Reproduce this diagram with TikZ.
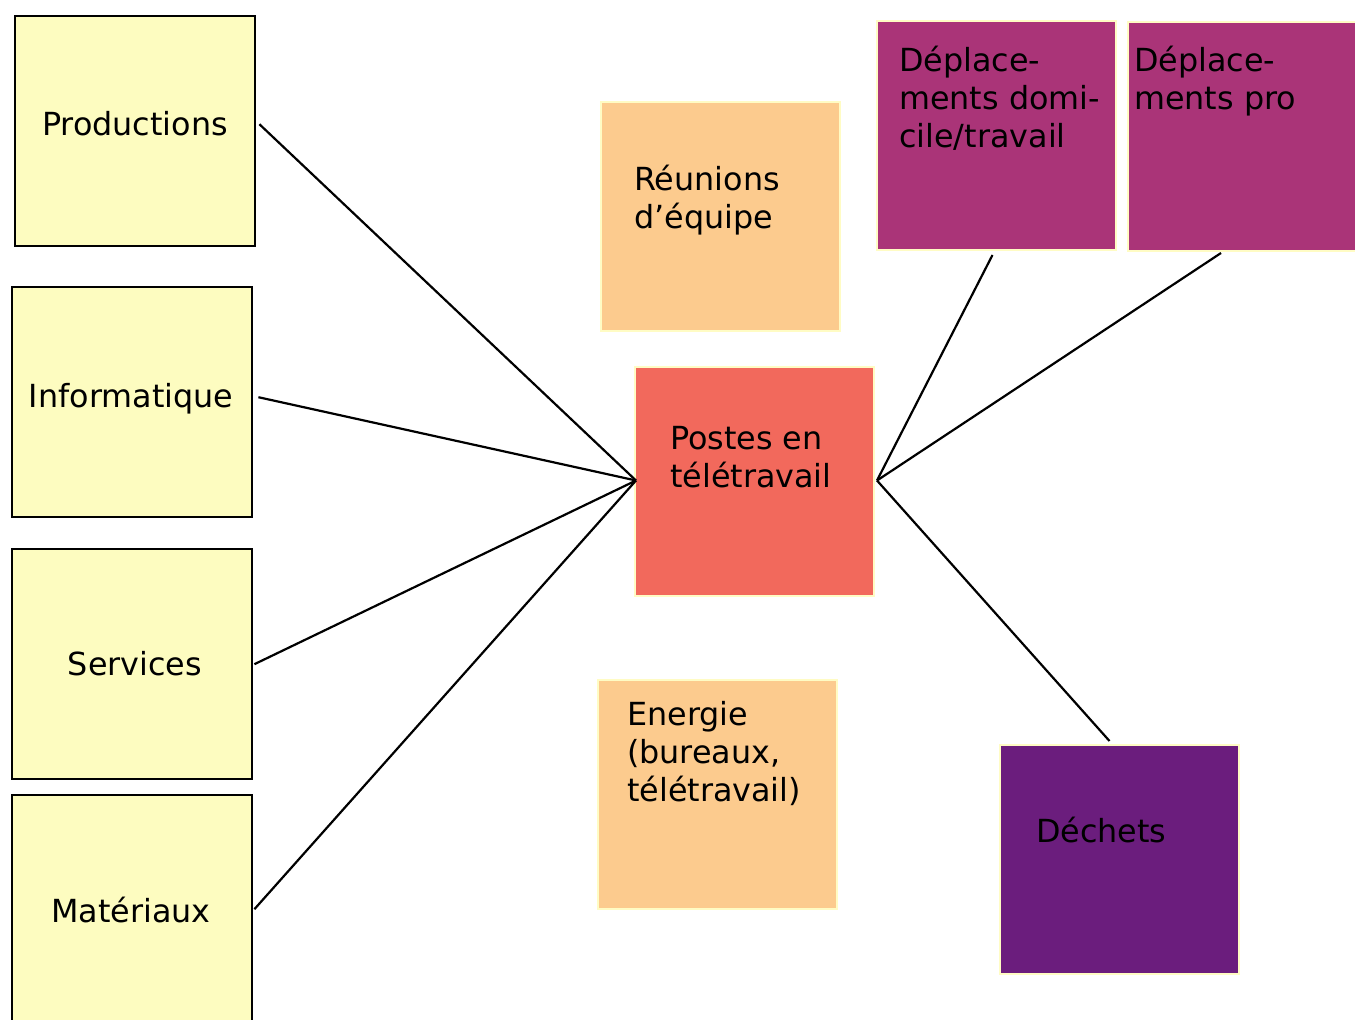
\documentclass[tikz,border=0pt]{standalone}
\usepackage{fontspec}
\setmainfont{DejaVu Sans}
\usetikzlibrary{calc}
\definecolor{lemon}{HTML}{FDFCC0}
\definecolor{peach}{HTML}{FCCB8E}
\definecolor{coral}{HTML}{F2695C}
\definecolor{plum}{HTML}{AA3478}
\definecolor{grape}{HTML}{6B1D7D}
\definecolor{paleedge}{HTML}{FFFCC4}
\tikzset{
  srcbox/.style={draw=black, line width=2.4pt, fill=lemon, rectangle, inner sep=0pt,
    minimum width=240pt, minimum height=230pt, anchor=north west},
  catbox/.style={draw=paleedge, line width=2pt, rectangle, inner sep=0pt,
    minimum width=239pt, minimum height=229pt, anchor=north west},
  lbl/.style={font=\fontsize{31.8pt}{38pt}\selectfont, inner sep=0pt, align=left, anchor=base west},
  clbl/.style={font=\fontsize{31.8pt}{38pt}\selectfont, inner sep=0pt, anchor=base},
  link/.style={draw=black, line width=2.2pt}
}
\begin{document}
\begin{tikzpicture}[x=1pt,y=-1pt]
\useasboundingbox (0,0) rectangle (1355,1020);
% left sources
\node[srcbox] (prod) at (14,15) {};
\node[srcbox] (info) at (11,286) {};
\node[srcbox] (serv) at (11,548) {};
\node[srcbox] (mat) at (11,794) {};
\node[clbl] (prodt) at (135,135) {Productions};
\node[clbl] (infot) at (131,407.5) {Informatique};
\node[clbl] (servt) at (135,675.5) {Services};
\node[clbl] (matt) at (131,922.5) {Matériaux};
% centre and categories
\node[catbox, fill=peach] (reun) at (600,101) {};
\node[catbox, fill=coral] (post) at (634,366) {};
\node[catbox, fill=peach] (ener) at (597,679) {};
\node[catbox, fill=plum] (ddom) at (876,20) {};
\node[catbox, fill=plum] (dpro) at (1127,21) {};
\node[catbox, fill=grape] (dech) at (999,744) {};
% anchor base = baseline of the last line
\node[lbl] (reunt) at (634,228.5) {Réunions\\d’équipe};
\node[lbl] (postt) at (670,487.5) {Postes en\\télétravail};
\node[lbl] (enert) at (627,801.5) {Energie\\(bureaux,\\télétravail)};
\node[lbl] (ddomt) at (899,147.5) {Déplace-\\ments domi-\\cile/travail};
\node[lbl] (dprot) at (1134,109.5) {Déplace-\\ments pro};
\node[lbl] (decht) at (1036,842.5) {Déchets};
% connectors
\draw[link] ($(prod.east)+(3,-7)$) -- ($(post.west)+(2,-1)$);
\draw[link] ($(info.east)+(5,-5)$) -- ($(post.west)+(2,-1)$);
\draw[link] ($(serv.east)+(1,0)$) -- ($(post.west)+(2,-1)$);
\draw[link] ($(mat.east)+(1,-1)$) -- ($(post.west)+(2,-1)$);
\draw[link] ($(post.east)+(2,-1)$) -- ($(ddom.south)+(-4,4)$);
\draw[link] ($(post.east)+(2,-1)$) -- ($(dpro.south west)+(94,1)$);
\draw[link] ($(post.east)+(2,-1)$) -- ($(dech.north)+(-10,-3)$);
\end{tikzpicture}
\end{document}
